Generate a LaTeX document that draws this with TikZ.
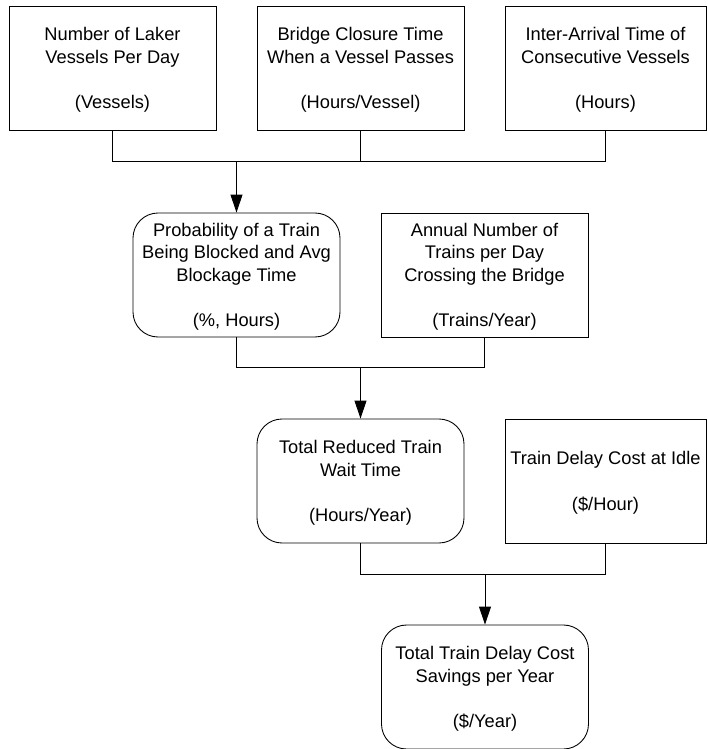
\documentclass[tikz,border=0pt]{standalone}
\usepackage{fontspec}
\setmainfont{Liberation Sans}
\usetikzlibrary{positioning,arrows.meta}

\begin{document}
\begin{tikzpicture}[
  every node/.style={font=\fontsize{10.4}{12.9}\selectfont,align=center},
  box/.style={draw,line width=0.5pt,minimum width=4.14cm,minimum height=2.48cm,inner sep=0pt,text depth=0pt},
  rbox/.style={box,rounded corners=0.5cm},
  link/.style={line width=0.5pt},
  arr/.style={link,-{Triangle[length=0.36cm,width=0.24cm]}}]
\useasboundingbox (0,0) rectangle (14.14,-14.98);
\def\gap{\\[\baselineskip]}
% inputs
\node[box] (laker) at (2.25,-1.36) {Number of Laker\\Vessels Per Day\gap(Vessels)};
\node[box] (closure) at (7.21,-1.36) {Bridge Closure Time\\When a Vessel Passes\gap(Hours/Vessel)};
\node[box,minimum width=4.02cm] (arrival) at (12.11,-1.36) {Inter-Arrival Time of\\Consecutive Vessels\gap(Hours)};
\node[rbox] (block) at (4.73,-5.50) {Probability of a Train\\Being Blocked and Avg\\Blockage Time\gap(\%, Hours)};
\node[box] (trains) at (9.69,-5.50) {Annual Number of\\Trains per Day\\Crossing the Bridge\gap(Trains/Year)};
\node[rbox] (wait) at (7.21,-9.62) {Total Reduced Train\\Wait Time\gap(Hours/Year)};
\node[box,minimum width=4.02cm] (idle) at (12.11,-9.62) {Train Delay Cost at Idle\gap(\$/Hour)};
\node[rbox] (savings) at (9.70,-13.74) {Total Train Delay Cost\\Savings per Year\gap(\$/Year)};
% joins
\coordinate (j1) at (block.north |- 0,-3.22);
\coordinate (j2) at (wait.north |- 0,-7.34);
\coordinate (j3) at (savings.north |- 0,-11.48);
\draw[link] (laker.south) |- (arrival.south |- j1) -- (arrival.south);
\draw[link] (closure.south) -- (closure.south |- j1);
\draw[arr] (j1) -- (block.north);
\draw[link] (block.south) |- (trains.south |- j2) -- (trains.south);
\draw[arr] (j2) -- (wait.north);
\draw[link] (wait.south) |- (idle.south |- j3) -- (idle.south);
\draw[arr] (j3) -- (savings.north);
\end{tikzpicture}
\end{document}
